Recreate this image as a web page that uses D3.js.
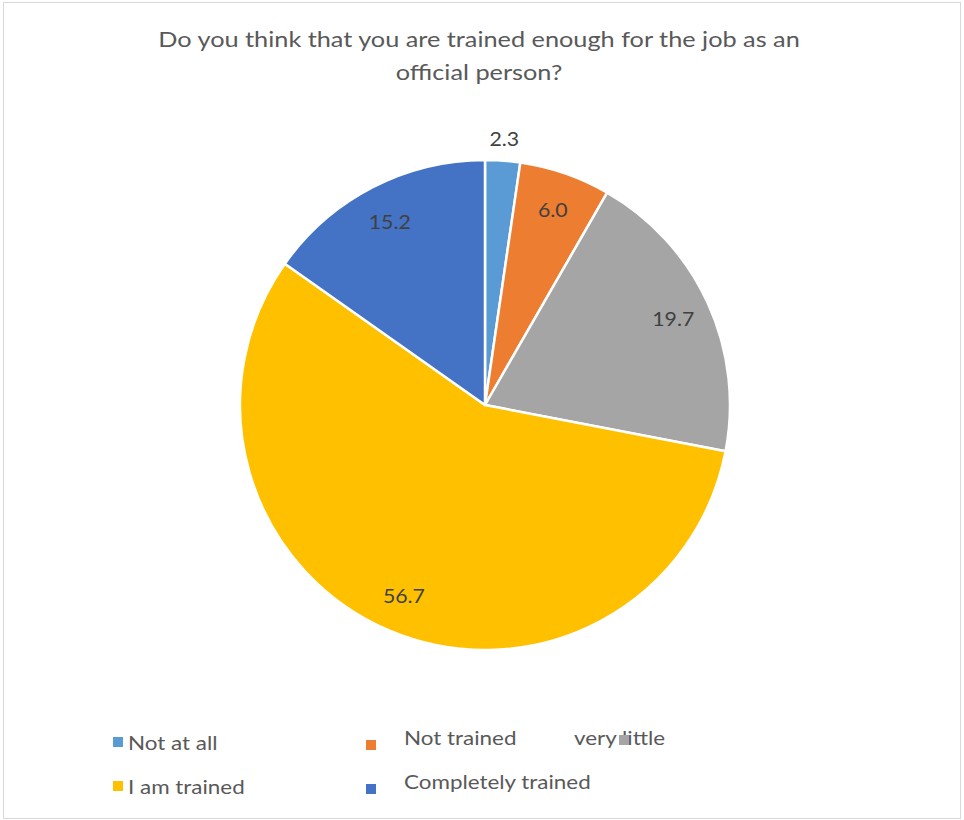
<!DOCTYPE html>
<html>
<head>
<meta charset="utf-8">
<script src="https://cdn.jsdelivr.net/npm/d3@7"></script>
<style>
  html, body { margin: 0; padding: 0; background: #fff; }
  svg { display: block; font-family: Lato, "Open Sans", sans-serif; }
</style>
</head>
<body>
<svg id="chart" width="964" height="820"></svg>
<script>
// Survey answers and their shares (%)
const categories = ["Not at all", "Not trained", "very little", "I am trained", "Completely trained"];
const values = [2.3, 6.0, 19.7, 56.7, 15.2];
const colors = ["#5B9BD5", "#ED7D31", "#A5A5A5", "#FFC000", "#4472C4"];
const titleLines = ["Do you think that you are trained enough for the job as an", "official person?"];

const svg = d3.select("#chart");
const W = 964, H = 820;
const widen = 1.15; // wide text face

// outer frame
svg.append("rect")
  .attr("x", 3.5).attr("y", 2.5)
  .attr("width", W - 7).attr("height", H - 4)
  .attr("fill", "#fff")
  .attr("stroke", "#d9d9d9").attr("stroke-width", 1);

// title
svg.append("g").selectAll("text")
  .data(titleLines)
  .join("text")
  .attr("transform", (d, i) => `translate(479,${47 + i * 33}) scale(${widen},1)`)
  .attr("text-anchor", "middle")
  .attr("fill", "#595959")
  .attr("font-size", 22)
  .text(d => d);

// pie
const cx = 485, cy = 405, R = 245;
const pie = d3.pie().sort(null).value(d => d.value);
const data = categories.map((c, i) => ({ name: c, value: values[i], color: colors[i] }));
const arcs = pie(data);
const arc = d3.arc().innerRadius(0).outerRadius(R);

const g = svg.append("g").attr("transform", `translate(${cx},${cy})`);
g.selectAll("path")
  .data(arcs)
  .join("path")
  .attr("d", arc)
  .attr("fill", d => d.data.color)
  .attr("stroke", "#fff")
  .attr("stroke-width", 2.5)
  .attr("stroke-linejoin", "round");

// value labels: inside near the rim, outside for very thin slices
const fmt = d3.format(".1f");
g.selectAll("text.val")
  .data(arcs)
  .join("text")
  .attr("class", "val")
  .attr("transform", d => {
    const thin = d.endAngle - d.startAngle < 0.2;
    const r = thin ? R + 22 : R * 0.845;
    const a = (d.startAngle + d.endAngle) / 2;
    return `translate(${r * Math.sin(a)},${-r * Math.cos(a)}) scale(${widen},1)`;
  })
  .attr("text-anchor", "middle")
  .attr("dominant-baseline", "central")
  .attr("fill", "#404040")
  .attr("font-size", 18.5)
  .text(d => fmt(d.data.value));

// legend
const legendItems = [
  { i: 0, sx: 113, sy: 737, tx: 128, ty: 742 },
  { i: 1, sx: 366, sy: 740, tx: 404, ty: 737 },
  { i: 2, sx: 619, sy: 735, tx: 574, ty: 737 },
  { i: 3, sx: 113, sy: 781, tx: 128, ty: 786 },
  { i: 4, sx: 366, sy: 784, tx: 404, ty: 781 }
];
const lg = svg.append("g");
const items = lg.selectAll("g")
  .data(legendItems)
  .join("g");
items.append("text")
  .attr("transform", d => `translate(${d.tx},${d.ty}) scale(${widen},1)`)
  .attr("dominant-baseline", "central")
  .attr("fill", "#595959")
  .attr("font-size", 19.5)
  .text(d => categories[d.i]);
items.append("rect")
  .attr("x", d => d.sx)
  .attr("y", d => d.sy)
  .attr("width", 10).attr("height", 10)
  .attr("fill", d => colors[d.i]);
</script>
</body>
</html>
